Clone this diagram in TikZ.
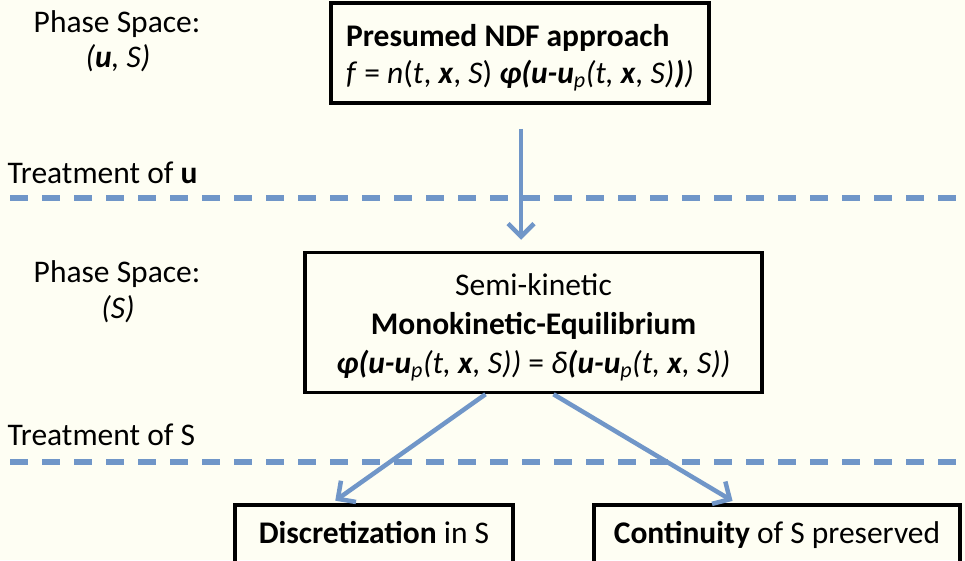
\documentclass[tikz,border=0pt]{standalone}
\usepackage{fontspec}
\setmainfont{Carlito}
\usetikzlibrary{arrows.meta, calc}
\definecolor{paper}{HTML}{FEFEF3}
\definecolor{steel}{HTML}{7096C8}
\tikzset{box/.style={draw, line width=3.5pt, inner sep=0pt},
	txt/.style={font=\fontsize{31.5}{37}\selectfont},
	flow/.style={draw=steel, line width=4.5pt, -{Straight Barb[length=13pt,width=26pt,line width=4.5pt]}},
	sepline/.style={draw=steel, line width=5.5pt, dash pattern=on 18pt off 14pt}}
\newcommand{\vb}[1]{\textbf{\textit{#1}}}
\newcommand{\upp}{\textsubscript{\textit{p}}}
\newcommand{\topstrut}{\rule{0pt}{31pt}}

\begin{document}
\begin{tikzpicture}
    [x=1pt, y=-1pt, every node/.style={txt}]
    \fill[paper] (0,0) rectangle (965,560);
    \useasboundingbox (0,0) rectangle (965,560);
    \clip (0,0) rectangle (965,560);
    % separators
    \coordinate (s1a) at (10,198);
    \coordinate (s1b) at (965,198);
    \coordinate (s2a) at (10,462);
    \coordinate (s2b) at (965,462);
    \draw[sepline] (s1a) -- (s1b);
    \draw[sepline] (s2a) -- (s2b);
    % left labels
    \node[anchor=base] (p1) at (117,32) {Phase Space:};
    \node[anchor=base] (v1) at (118,67) {\textit{(\vb{u}, S)}};
    \node[anchor=base west] (tu) at (4,183) {Treatment of \textbf{u}};
    \node[anchor=base] (p2) at (117,282) {Phase Space:};
    \node[anchor=base] (v2) at (118,318) {\textit{(S)}};
    \node[anchor=base west] (ts) at (4,445) {Treatment of S};
    % boxes
    \node[box, minimum width=378, minimum height=100, align=left] (t) at (520,53)
        {\topstrut\textbf{Presumed NDF approach}\\
         \textit{f} = \textit{n}(\textit{t}, \vb{x}, \textit{S}) \vb{φ(u-u}\upp\textit{(t, }\vb{x}\textit{, S)}\vb{)}\textit{)}};
    \node[box, minimum width=457, minimum height=140, align=center, font=\fontsize{31.5}{39}\selectfont] (m) at (533.5,322.5)
        {\topstrut Semi-kinetic\\ \textbf{Monokinetic-Equilibrium}\\
         \vb{φ(u-u}\upp\textit{(t, }\vb{x}\textit{, S))} = \textit{δ}\vb{(u-u}\upp\textit{(t, }\vb{x}\textit{, S))}};
    \node[box, anchor=north, minimum width=278, inner ysep=17pt, text height=22pt, text depth=40pt] (d) at (374,503)
        {\textbf{Discretization} in S};
    \node[box, anchor=north, minimum width=366, inner ysep=17pt, text height=22pt, text depth=40pt] (c) at (777,503)
        {\textbf{Continuity} of S preserved};
    % arrows
    \draw[flow, shorten <=24pt, shorten >=11pt] (t.south -| 521,0) -- (m.north -| 521,0);
    \draw[flow, shorten >=4pt] ($(m.south)+(-48,0)$) -- (d.north -| 332,0);
    \draw[flow, shorten >=4pt] ($(m.south)+(20,0)$) -- (c.north -| 736,0);
\end{tikzpicture}
\end{document}
